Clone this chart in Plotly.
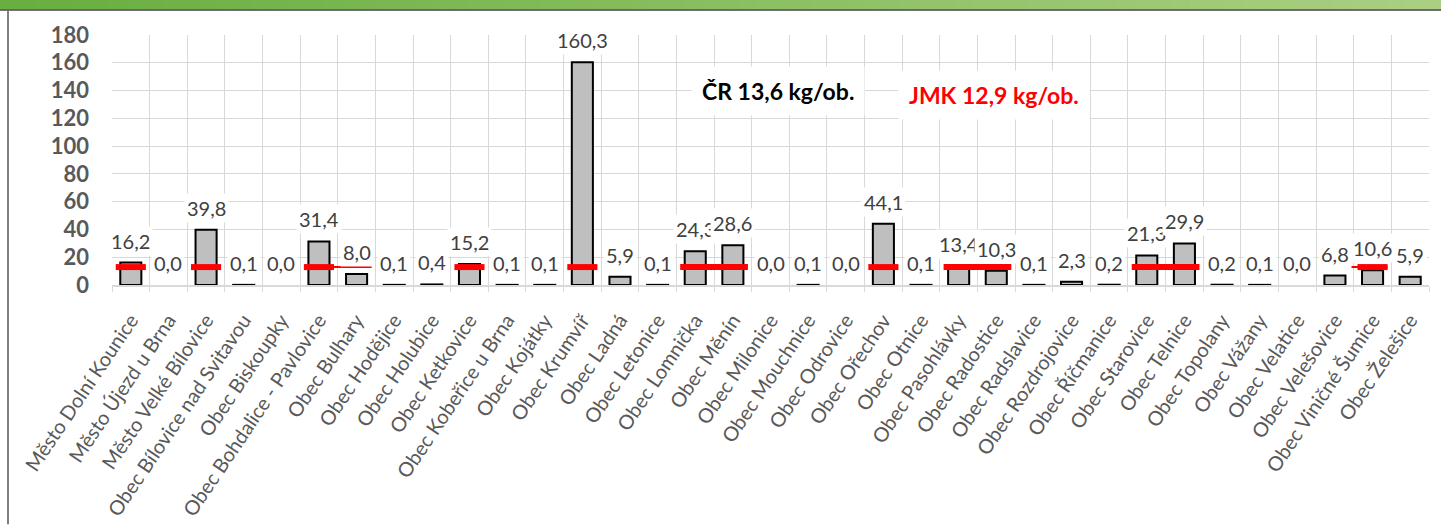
import plotly.graph_objects as go

categories = [
    "Město Dolní Kounice", "Město Újezd u Brna", "Město Velké Bílovice",
    "Obec Bílovice nad Svitavou", "Obec Biskoupky", "Obec Bohdalice - Pavlovice",
    "Obec Bulhary", "Obec Hodějice", "Obec Holubice", "Obec Ketkovice",
    "Obec Kobeřice u Brna", "Obec Kojátky", "Obec Krumvíř", "Obec Ladná",
    "Obec Letonice", "Obec Lomnička", "Obec Měnín", "Obec Milonice",
    "Obec Mouchnice", "Obec Odrovice", "Obec Ořechov", "Obec Otnice",
    "Obec Pasohlávky", "Obec Radostice", "Obec Radslavice", "Obec Rozdrojovice",
    "Obec Říčmanice", "Obec Starovice", "Obec Telnice", "Obec Topolany",
    "Obec Vážany", "Obec Velatice", "Obec Velešovice", "Obec Viničné Šumice",
    "Obec Želešice",
]
values = [
    16.2, 0.0, 39.8, 0.1, 0.0, 31.4, 8.0, 0.1, 0.4, 15.2,
    0.1, 0.1, 160.3, 5.9, 0.1, 24.3, 28.6, 0.0, 0.1, 0.0,
    44.1, 0.1, 13.4, 10.3, 0.1, 2.3, 0.2, 21.3, 29.9, 0.2,
    0.1, 0.0, 6.8, 10.6, 5.9,
]
y_ticks = [0, 20, 40, 60, 80, 100, 120, 140, 160, 180]

CR_AVG = 13.6
JMK_AVG = 12.9
cr_label = "ČR 13,6 kg/ob."
jmk_label = "JMK 12,9 kg/ob."

# groups of categories where the JMK average line is drawn
jmk_thick_groups = [
    ("Město Dolní Kounice", "Město Dolní Kounice"),
    ("Město Velké Bílovice", "Město Velké Bílovice"),
    ("Obec Bohdalice - Pavlovice", "Obec Bohdalice - Pavlovice"),
    ("Obec Ketkovice", "Obec Ketkovice"),
    ("Obec Krumvíř", "Obec Krumvíř"),
    ("Obec Lomnička", "Obec Měnín"),
    ("Obec Ořechov", "Obec Ořechov"),
    ("Obec Pasohlávky", "Obec Radostice"),
    ("Obec Starovice", "Obec Telnice"),
    ("Obec Viničné Šumice", "Obec Viničné Šumice"),
]
jmk_thin_groups = [
    ("Obec Bohdalice - Pavlovice", "Obec Bulhary"),
    ("Obec Velešovice", "Obec Viničné Šumice"),
]

idx = list(range(len(categories)))
pos = {c: i for i, c in enumerate(categories)}

FONT = "Lato"
W, H = 1441, 532
L, R, T, B = 112, 12, 35, 243
PW, PH = W - L - R, H - T - B

fig = go.Figure()

fig.add_trace(go.Bar(
    x=idx, y=values, width=0.56,
    marker=dict(color="#bfbfbf",
                line=dict(color="#000000",
                          width=[2 if v > 0 else 0 for v in values])),
    hoverinfo="skip", showlegend=False,
))

HALF = 0.4
for a, b in jmk_thin_groups:
    fig.add_trace(go.Scatter(
        x=[pos[a] - HALF, pos[b] + HALF], y=[JMK_AVG, JMK_AVG],
        mode="lines", line=dict(color="#ff0000", width=2),
        showlegend=False, hoverinfo="skip",
    ))
for a, b in jmk_thick_groups:
    fig.add_trace(go.Scatter(
        x=[pos[a] - HALF, pos[b] + HALF], y=[JMK_AVG, JMK_AVG],
        mode="lines", line=dict(color="#ff0000", width=6),
        showlegend=False, hoverinfo="skip",
    ))

annotations = []
for i, v in zip(idx, values):
    annotations.append(dict(
        x=i, y=v, xref="x", yref="y", yanchor="middle", yshift=22,
        text=f"{v:.1f}".replace(".", ","), showarrow=False,
        font=dict(family=FONT, size=20, color="#404040"),
        bgcolor="#ffffff", borderpad=2,
    ))
annotations.append(dict(
    x=17.2, y=139.5, xref="x", yref="y", text=cr_label, showarrow=False,
    font=dict(family=FONT, size=23, color="#000000", weight="bold"),
    bgcolor="#ffffff", borderpad=10,
))
annotations.append(dict(
    x=22.95, y=136.5, xref="x", yref="y", text=jmk_label, showarrow=False,
    font=dict(family=FONT, size=23, color="#ff0000", weight="bold"),
    bgcolor="#ffffff", borderpad=10,
))

# header gradient band
shapes = []
N = 80
c0 = (104, 174, 64)
c1 = (170, 207, 130)
for k in range(N):
    t = k / (N - 1)
    col = tuple(round(c0[j] + (c1[j] - c0[j]) * t) for j in range(3))
    shapes.append(dict(
        type="rect", xref="paper", yref="paper",
        x0=(-L + k * W / N) / PW,
        x1=(-L + (k + 1) * W / N + 1) / PW,
        y0=1 + (T - 9) / PH, y1=1 + (T + 1) / PH,
        fillcolor="rgb(%d,%d,%d)" % col, line=dict(width=0), layer="below",
    ))
shapes.append(dict(type="line", xref="paper", yref="paper",
                   x0=-L / PW, x1=1 + R / PW,
                   y0=1 + (T - 9.5) / PH, y1=1 + (T - 9.5) / PH,
                   line=dict(color="#404040", width=1.5)))
shapes.append(dict(type="line", xref="paper", yref="paper",
                   x0=(8 - L) / PW, x1=(8 - L) / PW,
                   y0=1 + (T - 10) / PH, y1=-B / PH,
                   line=dict(color="#808080", width=2)))

fig.update_layout(
    width=W, height=H,
    margin=dict(l=L, r=R, t=T, b=B),
    paper_bgcolor="#ffffff", plot_bgcolor="#ffffff",
    showlegend=False, bargap=0.4,
    annotations=annotations, shapes=shapes,
    xaxis=dict(
        range=[-0.5, len(categories) - 0.5],
        tickmode="array", tickvals=idx, ticktext=categories,
        tickangle=-56, ticks="", ticklabelstandoff=14,
        tickfont=dict(family=FONT, size=20, color="#595959"),
        showgrid=False, zeroline=False,
        showline=True, linecolor="#d9d9d9", linewidth=1.5,
        minor=dict(tickmode="linear", tick0=-0.5, dtick=1, showgrid=True,
                   gridcolor="#d9d9d9", gridwidth=1.2, ticks="outside",
                   ticklen=5, tickcolor="#d9d9d9"),
        fixedrange=True,
    ),
    yaxis=dict(
        range=[0, 180], tickmode="array", tickvals=y_ticks,
        tickfont=dict(family=FONT, size=22, color="#595959", weight="bold"),
        showgrid=True, gridcolor="#d9d9d9", gridwidth=1.2,
        zeroline=False, showline=False, ticklabelstandoff=22,
        fixedrange=True,
    ),
)

fig.write_html(
    "out.html",
    config={"displayModeBar": False},
    post_script="document.body.style.margin='0';document.body.style.overflow='hidden';",
)
